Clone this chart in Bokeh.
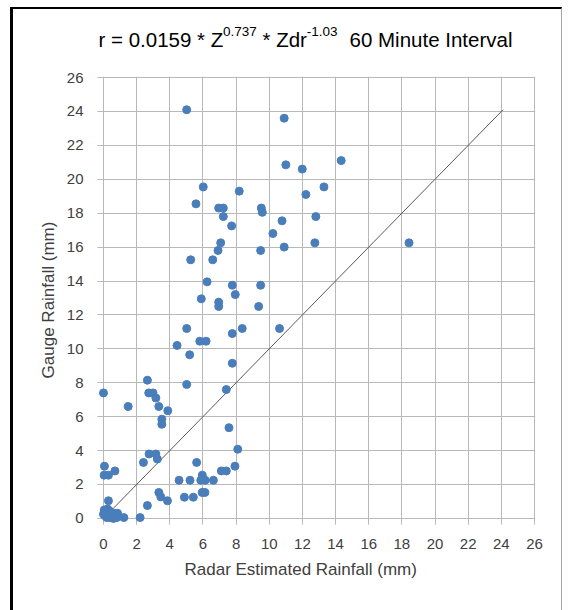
from bokeh.plotting import figure
from bokeh.layouts import column
from bokeh.models import FixedTicker, Range1d, Title
from bokeh.core.properties import value
from bokeh.embed import file_html
from bokeh.resources import INLINE

# Radar estimated rainfall (mm) vs gauge rainfall (mm)
radar_mm = [5.02, 10.9, 14.34, 11.0, 11.99, 6.02, 13.3, 8.19, 12.21, 5.58,
            6.95, 7.23, 9.52, 9.58, 7.23, 12.81, 10.77, 7.73, 10.22, 7.07,
            12.75, 18.43, 10.9, 6.91, 9.48, 5.26, 6.59, 6.25, 7.77, 9.48,
            7.95, 5.9, 6.95, 6.95, 9.36, 5.02, 8.37, 10.62, 7.77, 5.81,
            6.19, 4.44, 5.2, 7.77, 2.65, 5.02, 7.41, 0.0, 2.73, 2.99,
            3.16, 1.49, 3.34, 3.88, 3.52, 3.52, 7.57, 8.1, 2.75, 3.16,
            3.25, 2.41, 5.62, 0.06, 7.93, 0.69, 7.11, 7.41, 0.04, 0.3,
            5.96, 4.56, 5.22, 5.87, 6.13, 6.0, 6.63, 3.34, 5.95, 6.12,
            3.46, 4.88, 5.42, 0.3, 3.86, 2.65, 1.23, 2.21,
            0.0, 0.05, 0.15, 0.25, 0.35, 0.45, 0.2, 0.4, 0.55, 0.65,
            0.75, 0.8, 0.1, 0.3, 0.6, 0.85]
gauge_mm = [24.1, 23.6, 21.1, 20.85, 20.6, 19.55, 19.55, 19.3, 19.1, 18.55,
            18.3, 18.3, 18.3, 18.05, 17.8, 17.8, 17.55, 17.25, 16.8, 16.25,
            16.25, 16.25, 16.0, 15.8, 15.8, 15.25, 15.25, 13.95, 13.75, 13.75,
            13.2, 12.95, 12.75, 12.5, 12.5, 11.2, 11.2, 11.2, 10.9, 10.45,
            10.45, 10.2, 9.65, 9.15, 8.15, 7.9, 7.6, 7.4, 7.4, 7.4,
            7.1, 6.6, 6.6, 6.35, 5.85, 5.55, 5.35, 4.08, 3.8, 3.8,
            3.5, 3.3, 3.3, 3.08, 3.08, 2.8, 2.8, 2.8, 2.55, 2.55,
            2.55, 2.25, 2.25, 2.25, 2.25, 2.35, 2.25, 1.53, 1.53, 1.53,
            1.27, 1.25, 1.25, 1.04, 1.04, 0.76, 0.05, 0.05,
            0.25, 0.5, 0.35, 0.55, 0.45, 0.2, 0.05, 0.05, 0.1, 0.3,
            0.2, 0.05, 0.15, 0.25, 0.0, 0.3]

# 1:1 reference line
line_x = [0, 24.1]
line_y = [0, 24.1]

x_ticks = [0, 2, 4, 6, 8, 10, 12, 14, 16, 18, 20, 22, 24, 26]
y_ticks = [0, 2, 4, 6, 8, 10, 12, 14, 16, 18, 20, 22, 24, 26]

title_main = ["r = 0.0159 * Z", "* Zdr", "60 Minute Interval"]
title_sup = ["0.737", "-1.03"]
x_title = "Radar Estimated Rainfall (mm)"
y_title = "Gauge Rainfall (mm)"

FONT = "Liberation Sans"
GRID = "#b8b8b8"
TXT = "#404040"
W = 548

# ---- title strip: its frame is aligned with the main frame (page x 98..535) ----
tf = figure(width=W, height=58, output_backend="svg", toolbar_location=None,
            title=None, x_range=Range1d(98, 535), y_range=Range1d(0, 58),
            x_axis_location=None, y_axis_location=None,
            min_border_left=85, min_border_right=26, min_border_top=0,
            min_border_bottom=0)
tf.grid.visible = False
tf.outline_line_color = None
tf.text(x=[98, 262, 349], y=[28, 28, 28], text=title_main,
        text_font=value(FONT), text_font_size="20.5px", text_color="#000000",
        text_align="left", text_baseline="alphabetic")
tf.text(x=[222.4, 306.3], y=[36, 36], text=title_sup,
        text_font=value(FONT), text_font_size="13.5px", text_color="#000000",
        text_align="left", text_baseline="alphabetic")

# ---- main scatter ----
p = figure(width=W, height=543, output_backend="svg", toolbar_location=None,
           x_range=Range1d(-0.3, 26.06), y_range=Range1d(-0.3, 26.06),
           min_border_left=85, min_border_right=26, min_border_top=9,
           min_border_bottom=87)
p.outline_line_color = None

for ax, ticks in ((p.xaxis[0], x_ticks), (p.yaxis[0], y_ticks)):
    ax.ticker = FixedTicker(ticks=ticks)
    ax.axis_line_color = None
    ax.major_tick_line_color = "#9a9a9a"
    ax.major_tick_out = 1
    ax.major_tick_in = 0
    ax.minor_tick_line_color = None
    ax.major_label_text_font = FONT
    ax.major_label_text_font_size = "15px"
    ax.major_label_text_color = TXT
p.xaxis.major_label_standoff = 14
p.yaxis.major_label_standoff = 14
p.yaxis.axis_label = y_title
p.yaxis.axis_label_text_font = FONT
p.yaxis.axis_label_text_font_size = "17px"
p.yaxis.axis_label_text_font_style = "normal"
p.yaxis.axis_label_text_color = TXT
p.yaxis.axis_label_standoff = 6

p.add_layout(Title(text=x_title, align="left", offset=86, text_font=FONT,
                   text_font_size="17px", text_font_style="normal",
                   text_color=TXT, standoff=12), "below")

for g, ticks in ((p.xgrid[0], x_ticks), (p.ygrid[0], y_ticks)):
    g.ticker = FixedTicker(ticks=ticks)
    g.grid_line_color = GRID
    g.grid_line_width = 1

p.line(line_x, line_y, line_color="#595959", line_width=1)
p.scatter(radar_mm, gauge_mm, size=8, fill_color="#4A7EBB", line_color="#4A7EBB")

layout = column(tf, p, spacing=0, margin=(7, 0, 0, 10))
layout.styles = {"border-left": "3px solid black", "border-top": "2px solid black",
                 "border-right": "1px solid #a6a6a6"}

open("out.html", "w").write(file_html(layout, INLINE))
